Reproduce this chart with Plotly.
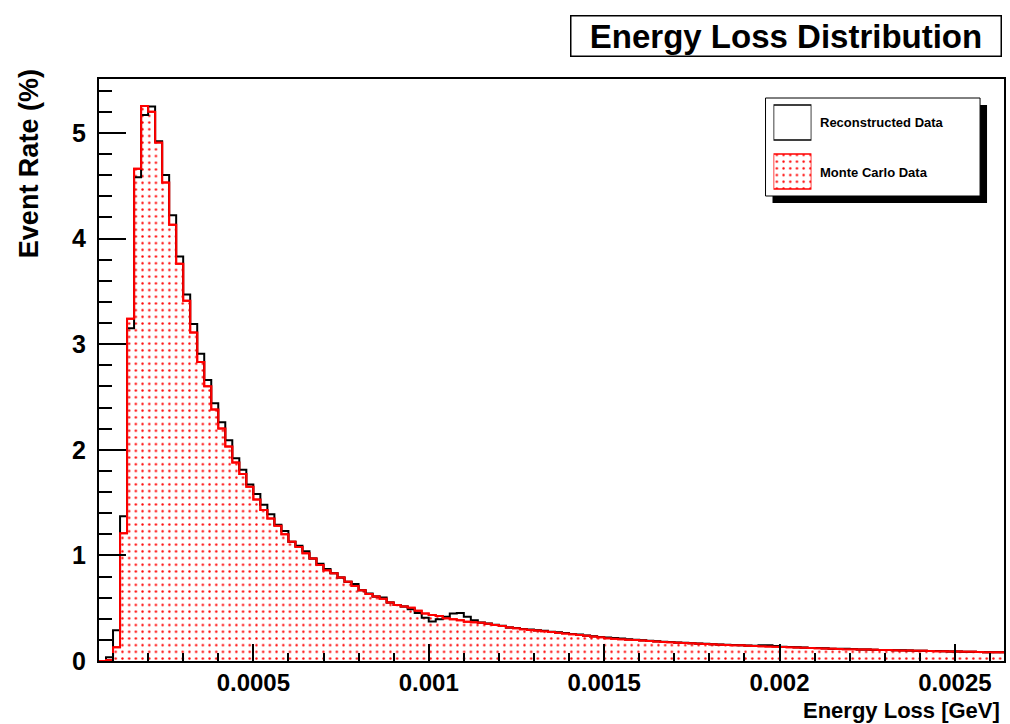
import numpy as np
import plotly.graph_objects as go

# ---------------- data ----------------
bin_low = 0.00006      # GeV, first bin edge
bin_width = 0.00002    # GeV

reco_values = [
    0.0, 0.035, 0.29, 1.37, 3.15, 4.58, 5.17, 5.25, 4.92, 4.60,
    4.22, 3.83, 3.47, 3.19, 2.91, 2.66, 2.44, 2.26, 2.09, 1.92,
    1.81, 1.67, 1.58, 1.48, 1.39, 1.29, 1.23, 1.13, 1.09, 1.04,
    0.97, 0.92, 0.87, 0.83, 0.79, 0.75, 0.73, 0.67, 0.64, 0.61,
    0.60, 0.555, 0.53, 0.515, 0.49, 0.455, 0.41, 0.375, 0.395, 0.42,
    0.45, 0.455, 0.42, 0.385, 0.365, 0.355, 0.343, 0.334, 0.318, 0.312,
    0.302, 0.298, 0.291, 0.286, 0.278, 0.272, 0.264, 0.256, 0.250, 0.242,
    0.234, 0.228, 0.223, 0.218, 0.213, 0.206, 0.202, 0.196, 0.191, 0.188,
    0.183, 0.179, 0.176, 0.172, 0.169, 0.166, 0.163, 0.159, 0.157, 0.154,
    0.151, 0.149, 0.146, 0.144, 0.148, 0.150, 0.143, 0.136, 0.132, 0.129,
    0.127, 0.124, 0.122, 0.120, 0.117, 0.115, 0.116, 0.114, 0.110, 0.108,
    0.107, 0.105, 0.104, 0.102, 0.101, 0.099, 0.098, 0.096, 0.095, 0.094,
    0.092, 0.091, 0.090, 0.088, 0.087, 0.086, 0.084, 0.084, 0.083,
]

mc_values = [
    0.0, 0.01, 0.13, 1.21, 3.24, 4.66, 5.255, 5.20, 4.91, 4.53,
    4.13, 3.76, 3.41, 3.11, 2.83, 2.60, 2.38, 2.20, 2.03, 1.88,
    1.77, 1.65, 1.53, 1.43, 1.35, 1.28, 1.20, 1.13, 1.08, 1.02,
    0.97, 0.91, 0.86, 0.83, 0.79, 0.75, 0.71, 0.67, 0.635, 0.61,
    0.59, 0.555, 0.53, 0.515, 0.505, 0.475, 0.45, 0.435, 0.425, 0.405,
    0.395, 0.385, 0.372, 0.368, 0.363, 0.353, 0.340, 0.332, 0.316, 0.310,
    0.300, 0.294, 0.288, 0.281, 0.275, 0.268, 0.261, 0.254, 0.246, 0.239,
    0.232, 0.224, 0.216, 0.211, 0.207, 0.202, 0.198, 0.193, 0.189, 0.185,
    0.181, 0.177, 0.173, 0.170, 0.167, 0.164, 0.161, 0.158, 0.155, 0.152,
    0.150, 0.148, 0.145, 0.143, 0.140, 0.138, 0.136, 0.133, 0.131, 0.128,
    0.126, 0.124, 0.121, 0.119, 0.116, 0.114, 0.112, 0.111, 0.109, 0.108,
    0.106, 0.105, 0.103, 0.102, 0.100, 0.099, 0.097, 0.096, 0.095, 0.093,
    0.092, 0.091, 0.089, 0.088, 0.087, 0.085, 0.084, 0.083, 0.082,
]

x_tick_vals = [0.0005, 0.001, 0.0015, 0.002, 0.0025]
x_tick_labels = ["0.0005", "0.001", "0.0015", "0.002", "0.0025"]
y_tick_vals = [0, 1, 2, 3, 4, 5]
y_tick_labels = ["0", "1", "2", "3", "4", "5"]

legend_labels = ["Reconstructed Data", "Monte Carlo Data"]
title_text = "Energy Loss Distribution"
x_title = "Energy Loss [GeV]"
y_title = "Event Rate (%)"

# ---------------- geometry helpers ----------------
n_bins = len(mc_values)
edges = bin_low + bin_width * np.arange(n_bins + 1)
x_range = [edges[0], edges[-1]]
y_range = [0, 5.51]

W, H = 1010, 724
ML, MR, MT, MB = 99, 4, 79, 63
PW = W - ML - MR
PH = H - MT - MB


def px(x):
    return (x - ML) / PW


def py(y):
    return (H - MB - y) / PH


FONT = "Liberation Sans, Arial, Helvetica, sans-serif"
RED = "#ff0000"


def step_xy(vals):
    return list(edges), list(vals) + [vals[-1]]


fig = go.Figure()

mx, my = step_xy(mc_values)
rx, ry = step_xy(reco_values)

dot_pattern = dict(shape=".", fgcolor=RED, bgcolor="white", size=6.7,
                   solidity=0.1, fillmode="replace")

# Monte Carlo filled histogram (dot pattern)
fig.add_trace(go.Scatter(
    x=mx, y=my, mode="lines", line=dict(shape="hv", color=RED, width=2),
    fill="tozeroy", fillcolor="white", fillpattern=dot_pattern,
    showlegend=False, hoverinfo="skip"))
# Reconstructed outline
fig.add_trace(go.Scatter(
    x=rx, y=ry, mode="lines", line=dict(shape="hv", color="black", width=2),
    showlegend=False, hoverinfo="skip"))
# Red outline on top
fig.add_trace(go.Scatter(
    x=mx, y=my, mode="lines", line=dict(shape="hv", color=RED, width=2),
    showlegend=False, hoverinfo="skip"))

# Legend swatches on an auxiliary (hidden) axis pair
fig.add_trace(go.Bar(
    y=[legend_labels[0]], x=[1], orientation="h", xaxis="x2", yaxis="y2",
    marker=dict(color="white", line=dict(color="black", width=1.5)),
    showlegend=False, hoverinfo="skip"))
fig.add_trace(go.Bar(
    y=[legend_labels[1]], x=[1], orientation="h", xaxis="x2", yaxis="y2",
    marker=dict(color="white", line=dict(color=RED, width=1.5),
                pattern=dot_pattern),
    showlegend=False, hoverinfo="skip"))

# legend box geometry (pixels)
lb_x0, lb_x1, lb_y0, lb_y1 = 767, 982, 98, 196
sh = 7

shapes = [
    dict(type="rect", xref="paper", yref="paper", layer="below",
         x0=px(lb_x0 + sh), x1=px(lb_x1 + sh), y0=py(lb_y1 + sh), y1=py(lb_y0 + sh),
         fillcolor="black", line=dict(width=0)),
    dict(type="rect", xref="paper", yref="paper", layer="below",
         x0=px(lb_x0), x1=px(lb_x1), y0=py(lb_y1), y1=py(lb_y0),
         fillcolor="white", line=dict(color="black", width=1)),
]

annotations = [
    dict(text=f"<b>{title_text}</b>", xref="paper", yref="paper",
         x=px(787.5), y=py(36), xanchor="center", yanchor="middle",
         showarrow=False, width=429, height=39, borderpad=0,
         bordercolor="black", borderwidth=1.5, bgcolor="white",
         font=dict(family=FONT, size=33, color="black")),
    dict(text=f"<b>{legend_labels[0]}</b>", xref="paper", yref="paper",
         x=px(820), y=py(123), xanchor="left", yanchor="middle",
         showarrow=False, font=dict(family=FONT, size=13, color="black")),
    dict(text=f"<b>{legend_labels[1]}</b>", xref="paper", yref="paper",
         x=px(820), y=py(172), xanchor="left", yanchor="middle",
         showarrow=False, font=dict(family=FONT, size=13, color="black")),
    dict(text=f"<b>{x_title}</b>", xref="paper", yref="paper",
         x=px(1004), y=py(710.5), xanchor="right", yanchor="middle",
         showarrow=False, font=dict(family=FONT, size=22, color="black")),
    dict(text=f"<b>{y_title}</b>", xref="paper", yref="paper",
         x=px(29), y=py(164), xanchor="center", yanchor="middle", textangle=-90,
         showarrow=False, font=dict(family=FONT, size=27, color="black")),
]

fig.update_layout(
    width=W, height=H,
    margin=dict(l=ML, r=MR, t=MT, b=MB, pad=0),
    paper_bgcolor="white", plot_bgcolor="rgba(0,0,0,0)",
    showlegend=False, bargap=14 / 49,
    font=dict(family=FONT, color="black"),
    xaxis=dict(range=x_range, showgrid=False, zeroline=False,
               showline=True, linecolor="black", linewidth=2, mirror=True,
               ticks="inside", ticklen=17, tickwidth=1.5, tickcolor="black",
               tickmode="array", tickvals=x_tick_vals, ticktext=x_tick_labels,
               ticklabelstandoff=-1,
               tickfont=dict(family=FONT, size=24, color="black", weight="bold"),
               minor=dict(ticks="inside", ticklen=8, tickwidth=1.5,
                          tickcolor="black", dtick=0.0001, tick0=0, showgrid=False)),
    yaxis=dict(range=y_range, showgrid=False, zeroline=False,
               showline=True, linecolor="black", linewidth=2, mirror=True,
               ticks="inside", ticklen=27, tickwidth=1.5, tickcolor="black",
               tickmode="array", tickvals=y_tick_vals, ticktext=y_tick_labels,
               ticklabelstandoff=6,
               tickfont=dict(family=FONT, size=25, color="black", weight="bold"),
               minor=dict(ticks="inside", ticklen=13, tickwidth=1.5,
                          tickcolor="black", dtick=0.2, tick0=0, showgrid=False)),
    xaxis2=dict(domain=[px(775), px(813)], anchor="y2", range=[0, 1],
                visible=False, fixedrange=True),
    yaxis2=dict(domain=[py(lb_y1), py(lb_y0)], anchor="x2",
                categoryorder="array",
                categoryarray=[legend_labels[1], legend_labels[0]],
                visible=False, fixedrange=True),
    shapes=shapes,
    annotations=annotations,
)

fig.write_html("out.html")
